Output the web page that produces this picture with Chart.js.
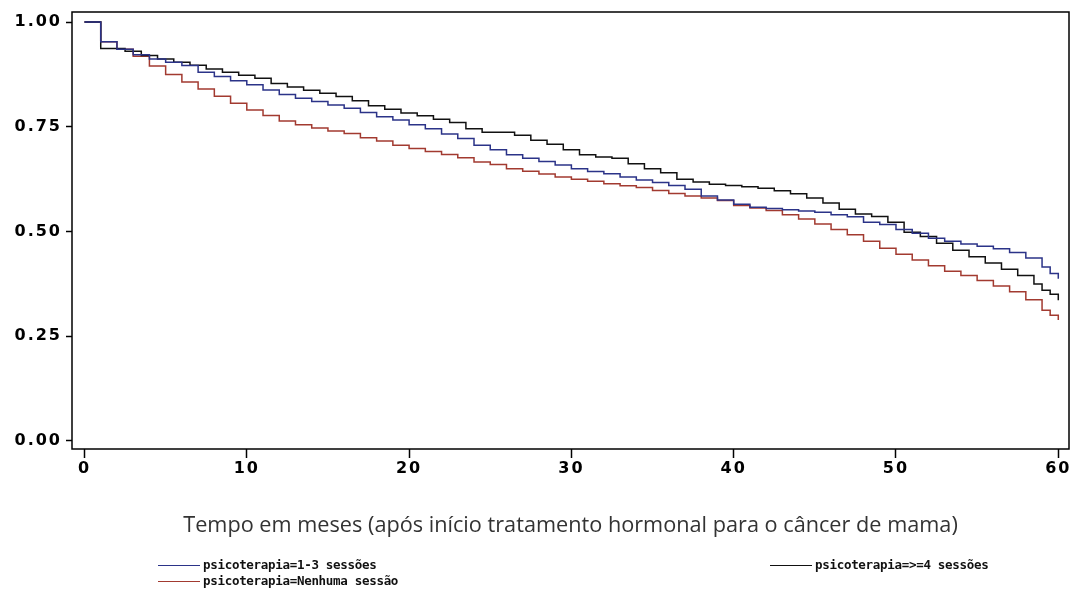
<!DOCTYPE html>
<html>
<head>
<meta charset="utf-8">
<title>Sobrevida por psicoterapia</title>
<script src="https://cdn.jsdelivr.net/npm/chart.js@4.4.1/dist/chart.umd.min.js"></script>
<style>
  html, body { margin: 0; padding: 0; background: #fff; }
  #wrap { position: relative; width: 1074px; height: 593px; }
  #chart { position: absolute; left: 0; top: 0; }
  #xtitle {
    position: absolute; left: 72px; width: 997px; top: 510px; line-height: 28px;
    text-align: center; font-family: "Open Sans", sans-serif; font-size: 20px;
    color: #333; white-space: nowrap;
  }
  .leg {
    position: absolute; height: 16px; line-height: 16px;
    font: bold 12.5px "DejaVu Sans Mono", monospace; color: #111; white-space: pre;
    letter-spacing: -0.3px;
  }
  .leg i {
    display: inline-block; width: 42px; height: 0; border-top: 1.5px solid;
    vertical-align: middle; margin-right: 3px;
  }
</style>
</head>
<body>
<div id="wrap">
  <canvas id="chart" width="1074" height="593"></canvas>
  <div id="xtitle"><span id="xtitleText"></span></div>
  <div id="legend"></div>
</div>
<script>
// Kaplan-Meier estimates by number of psychotherapy sessions (time in months)
const seriesNames = [
  'psicoterapia=1-3 sessões',
  'psicoterapia=>=4 sessões',
  'psicoterapia=Nenhuma sessão'
];
const seriesColors = ['#2b3388', '#111111', '#a23a30'];

const months13 = [0, 1, 2, 3, 4, 5, 6, 7, 8, 9, 10, 11, 12, 13, 14, 15, 16, 17, 18, 19, 20,
  21, 22, 23, 24, 25, 26, 27, 28, 29, 30, 31, 32, 33, 34, 35, 36, 37, 38, 39, 40,
  41, 42, 43, 44, 45, 46, 47, 48, 49, 50, 51, 52, 53, 54, 55, 56, 57, 58, 59, 59.5, 60];
const surv13 = [1.00, 0.953, 0.935, 0.922, 0.912, 0.904, 0.896, 0.880, 0.870, 0.860, 0.850,
  0.838, 0.827, 0.818, 0.810, 0.802, 0.794, 0.784, 0.774, 0.766, 0.755,
  0.745, 0.733, 0.722, 0.706, 0.695, 0.683, 0.675, 0.667, 0.659, 0.650,
  0.643, 0.638, 0.630, 0.623, 0.617, 0.610, 0.601, 0.585, 0.575, 0.565,
  0.558, 0.555, 0.552, 0.549, 0.546, 0.540, 0.535, 0.522, 0.517, 0.505,
  0.496, 0.484, 0.477, 0.470, 0.465, 0.459, 0.450, 0.437, 0.415, 0.400, 0.387];

const months4 = [0, 1, 2.5, 3.5, 4.5, 5.5, 6.5, 7.5, 8.5, 9.5, 10.5, 11.5, 12.5, 13.5, 14.5,
  15.5, 16.5, 17.5, 18.5, 19.5, 20.5, 21.5, 22.5, 23.5, 24.5, 26.5, 27.5, 28.5, 29.5,
  30.5, 31.5, 32.5, 33.5, 34.5, 35.5, 36.5, 37.5, 38.5, 39.5, 40.5, 41.5, 42.5, 43.5,
  44.5, 45.5, 46.5, 47.5, 48.5, 49.5, 50.5, 51.5, 52.5, 53.5, 54.5, 55.5, 56.5, 57.5,
  58.5, 59, 59.5, 60];
const surv4 = [1.00, 0.937, 0.930, 0.920, 0.912, 0.904, 0.897, 0.888, 0.880, 0.873, 0.866,
  0.853, 0.845, 0.837, 0.830, 0.822, 0.812, 0.800, 0.792, 0.783, 0.776, 0.768, 0.760,
  0.745, 0.737, 0.730, 0.718, 0.708, 0.695, 0.683, 0.678, 0.675, 0.662, 0.650, 0.640,
  0.625, 0.618, 0.613, 0.610, 0.607, 0.603, 0.597, 0.590, 0.580, 0.568, 0.553, 0.542,
  0.536, 0.522, 0.498, 0.488, 0.472, 0.455, 0.440, 0.425, 0.410, 0.395, 0.375, 0.360,
  0.350, 0.336];

const months0 = [0, 1, 2, 3, 4, 5, 6, 7, 8, 9, 10, 11, 12, 13, 14, 15, 16, 17, 18, 19, 20,
  21, 22, 23, 24, 25, 26, 27, 28, 29, 30, 31, 32, 33, 34, 35, 36, 37, 38, 39, 40,
  41, 42, 43, 44, 45, 46, 47, 48, 49, 50, 51, 52, 53, 54, 55, 56, 57, 58, 59, 59.5, 60];
const surv0 = [1.00, 0.953, 0.935, 0.918, 0.895, 0.875, 0.857, 0.840, 0.823, 0.806, 0.790,
  0.777, 0.764, 0.755, 0.747, 0.740, 0.734, 0.724, 0.716, 0.706, 0.698,
  0.691, 0.684, 0.676, 0.666, 0.660, 0.650, 0.644, 0.637, 0.630, 0.625,
  0.620, 0.614, 0.609, 0.605, 0.598, 0.591, 0.585, 0.580, 0.574, 0.562,
  0.556, 0.550, 0.540, 0.530, 0.518, 0.505, 0.492, 0.477, 0.460, 0.446,
  0.432, 0.418, 0.405, 0.395, 0.383, 0.370, 0.356, 0.337, 0.312, 0.300, 0.289];

const xTicks = [0, 10, 20, 30, 40, 50, 60];
const yTicks = [0, 0.25, 0.5, 0.75, 1];
const xTitle = 'Tempo em meses (após início tratamento hormonal para o câncer de mama)';

const toPoints = (xs, ys) => xs.map((x, i) => ({ x, y: ys[i] }));
const seriesData = [toPoints(months13, surv13), toPoints(months4, surv4), toPoints(months0, surv0)];

const tickFont = { family: '"DejaVu Sans", sans-serif', size: 16, weight: 'bold' };

// Wider letter spacing for the axis tick labels; reset before the curves are drawn
const tickSpacing = {
  id: 'tickSpacing',
  beforeDraw(chart) { chart.ctx.letterSpacing = '2px'; },
  beforeDatasetsDraw(chart) { chart.ctx.letterSpacing = '0px'; }
};

// Closed frame around the plotting area
const frame = {
  id: 'frame',
  beforeDatasetsDraw(chart) {
    const { ctx, chartArea: a } = chart;
    ctx.save();
    ctx.strokeStyle = '#000';
    ctx.lineWidth = 1.5;
    ctx.strokeRect(a.left, a.top, a.right - a.left, a.bottom - a.top);
    ctx.restore();
  }
};

const chart = new Chart(document.getElementById('chart'), {
  type: 'line',
  data: {
    datasets: seriesData.map((d, i) => ({
      label: seriesNames[i],
      data: d,
      borderColor: seriesColors[i],
      backgroundColor: seriesColors[i],
      borderWidth: 1.5,
      pointRadius: 0,
      stepped: true,
      fill: false
    }))
  },
  plugins: [tickSpacing, frame],
  options: {
    responsive: false,
    animation: false,
    layout: { padding: { left: 0, right: 5, top: 12, bottom: 104 } },
    plugins: { legend: { display: false }, tooltip: { enabled: false }, title: { display: false } },
    scales: {
      x: {
        type: 'linear',
        min: -0.77,
        max: 60.66,
        afterBuildTicks: s => { s.ticks = xTicks.map(v => ({ value: v })); },
        afterFit: s => { s.height = 40; s.paddingLeft = 0; s.paddingRight = 0; },
        ticks: { font: tickFont, color: '#000', padding: 1, maxRotation: 0, autoSkip: false,
                 callback: v => String(v) },
        grid: { drawOnChartArea: false, drawTicks: true, tickLength: 9, tickWidth: 1.5, tickColor: '#000' },
        border: { display: false }
      },
      y: {
        type: 'linear',
        min: -0.0191,
        max: 1.0239,
        afterBuildTicks: s => { s.ticks = yTicks.map(v => ({ value: v })); },
        afterFit: s => { s.width = 72; s.paddingTop = 0; s.paddingBottom = 0; },
        ticks: { font: tickFont, color: '#000', padding: 4, callback: v => v.toFixed(2) },
        grid: { drawOnChartArea: false, drawTicks: true, tickLength: 6, tickWidth: 1.5, tickColor: '#000' },
        border: { display: false }
      }
    }
  }
});

// Axis title under the plot, sized to its line length
const titleSpan = document.getElementById('xtitleText');
titleSpan.textContent = xTitle;
const titleTarget = 775;
const baseSize = 20;
const natural = titleSpan.getBoundingClientRect().width;
document.getElementById('xtitle').style.fontSize = (baseSize * titleTarget / natural).toFixed(2) + 'px';

// Legend laid out in two columns below the axis title
const legendSlots = [
  { left: 158, top: 557 },
  { left: 770, top: 557 },
  { left: 158, top: 573 }
];
const legend = document.getElementById('legend');
chart.data.datasets.forEach((ds, i) => {
  const item = document.createElement('div');
  item.className = 'leg';
  item.style.left = legendSlots[i].left + 'px';
  item.style.top = legendSlots[i].top + 'px';
  const sample = document.createElement('i');
  sample.style.borderColor = ds.borderColor;
  item.appendChild(sample);
  item.appendChild(document.createTextNode(ds.label));
  legend.appendChild(item);
});
</script>
</body>
</html>
